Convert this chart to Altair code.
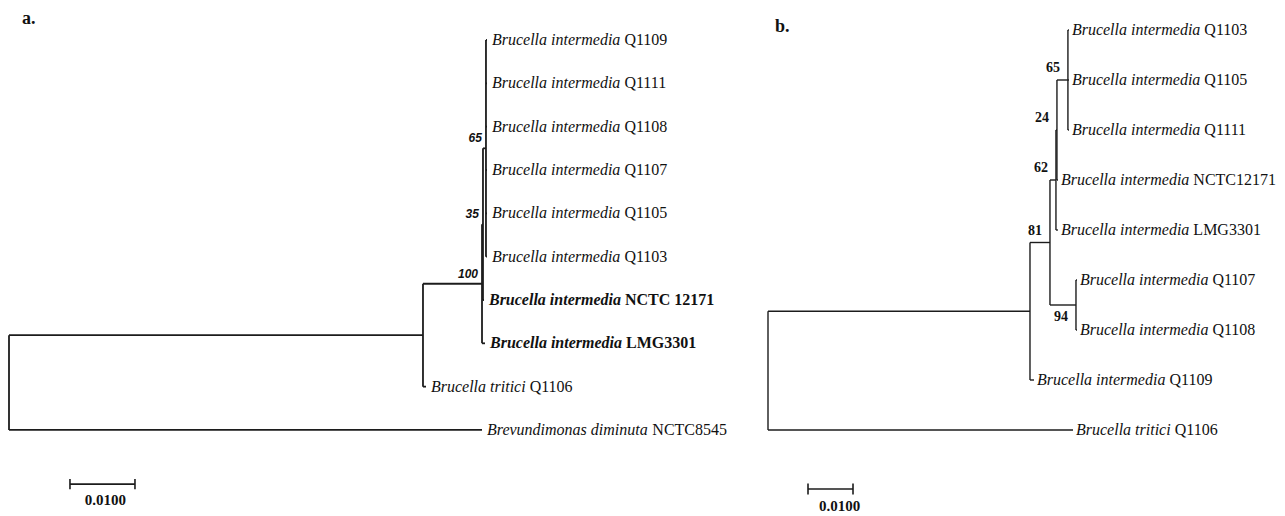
import altair as alt
import pandas as pd

SERIF = "Liberation Serif"
SANS = "Liberation Sans"
INK = "#111111"
LINE = "#1c1c1c"

# ---------------- Panel a data ----------------
a_nodes = ["root", "n1", "n100", "n35", "n65",
           "Q1109", "Q1111", "Q1108", "Q1107", "Q1105", "Q1103",
           "NCTC 12171", "LMG3301", "Q1106", "NCTC8545"]
a_parent = ["", "root", "n1", "n100", "n35",
            "n65", "n65", "n65", "n65", "n65", "n65",
            "n35", "n100", "n1", "root"]
a_branch = [0.0, 0.06369, 0.00908, 0.00015, 0.00046,
            0.00015, 0.00015, 0.00015, 0.00015, 0.00015, 0.00015,
            0.00015, 0.00046, 0.00046, 0.07277]
a_leaves = ["Q1109", "Q1111", "Q1108", "Q1107", "Q1105", "Q1103",
            "NCTC 12171", "LMG3301", "Q1106", "NCTC8545"]
a_species = ["Brucella intermedia", "Brucella intermedia", "Brucella intermedia",
             "Brucella intermedia", "Brucella intermedia", "Brucella intermedia",
             "Brucella intermedia", "Brucella intermedia",
             "Brucella tritici", "Brevundimonas diminuta"]
a_bold = [0, 0, 0, 0, 0, 0, 1, 1, 0, 0]
a_support_nodes = ["n65", "n35", "n100"]
a_support = ["65", "35", "100"]
a_scalebar = 0.0100

# ---------------- Panel b data ----------------
b_nodes = ["root", "nY", "n81", "n62", "n24", "n65",
           "Q1103", "Q1105", "Q1111", "NCTC12171", "LMG3301",
           "n94", "Q1107", "Q1108", "Q1109", "Q1106"]
b_parent = ["", "root", "nY", "n81", "n62", "n24",
            "n65", "n65", "n65", "n24", "n62",
            "n81", "n94", "n94", "nY", "root"]
b_branch = [0.0, 0.05822, 0.00444, 0.00133, 0.00022, 0.00244,
            0.00022, 0.00022, 0.00022, 0.00022, 0.00044,
            0.00578, 0.00022, 0.00022, 0.00089, 0.06778]
b_leaves = ["Q1103", "Q1105", "Q1111", "NCTC12171", "LMG3301",
            "Q1107", "Q1108", "Q1109", "Q1106"]
b_species = ["Brucella intermedia", "Brucella intermedia", "Brucella intermedia",
             "Brucella intermedia", "Brucella intermedia", "Brucella intermedia",
             "Brucella intermedia", "Brucella intermedia", "Brucella tritici"]
b_bold = [0, 0, 0, 0, 0, 0, 0, 0, 0]
b_support_nodes = ["n65", "n24", "n62", "n81", "n94"]
b_support = ["65", "24", "62", "81", "94"]
b_support_below = [0, 0, 0, 0, 1]
b_scalebar = 0.0100

# Times / Liberation Serif advance widths (per 1000 em)
ITALIC = {"B": 611, "r": 389, "u": 500, "c": 444, "e": 444, "l": 278, "a": 500,
          "i": 278, "n": 500, "t": 278, "m": 722, "d": 500, "v": 444, "o": 500,
          "s": 389, " ": 250}
BOLD_ITALIC = {"B": 667, "r": 389, "u": 556, "c": 444, "e": 444, "l": 278, "a": 500,
               "i": 278, "n": 556, "t": 278, "m": 778, "d": 500, "v": 444, "o": 500,
               "s": 389, " ": 250}
FS = 16


def text_width(s, table, size):
    return sum(table.get(ch, 500) for ch in s) * size / 1000.0


def layout(nodes, parent, branch, leaves):
    x = {}
    for n, p, b in zip(nodes, parent, branch):
        x[n] = b + (x[p] if p else 0.0)
    children = {n: [] for n in nodes}
    for n, p in zip(nodes, parent):
        if p:
            children[p].append(n)
    y = {}

    def gy(n):
        if not children[n]:
            y[n] = float(leaves.index(n))
            return y[n]
        ys = [gy(c) for c in children[n]]
        y[n] = (min(ys) + max(ys)) / 2.0
        return y[n]

    gy(nodes[0])
    segs = []
    for n, p in zip(nodes, parent):
        if p:
            segs.append(dict(x=x[p], x2=x[n], y=y[n], y2=y[n]))
        if children[n]:
            cy = [y[c] for c in children[n]]
            segs.append(dict(x=x[n], x2=x[n], y=min(cy), y2=max(cy)))
    return x, y, pd.DataFrame(segs)


def panel(nodes, parent, branch, leaves, species, bold, sup_nodes, sup, sup_below,
          scalebar, ppu, root_px, width, leaf_px, first_px, height,
          gap, sb_start, sb_y, sb_tick, sb_label_y, sb_label_dx,
          sup_font, sup_style, sup_size, sup_dx, sup_dy, line_w, title, title_dx, title_dy):
    x, y, segs = layout(nodes, parent, branch, leaves)
    x0 = -root_px / ppu
    xdom = [x0, x0 + width / ppu]
    y0 = -first_px / leaf_px
    ydom = [y0, y0 + height / leaf_px]
    xsc = alt.Scale(domain=xdom, nice=False, zero=False)
    ysc = alt.Scale(domain=ydom, nice=False, zero=False, reverse=True)

    rows = []
    for lf, sp, bd in zip(leaves, species, bold):
        tbl = BOLD_ITALIC if bd else ITALIC
        w = text_width(sp + " ", tbl, FS)
        rows.append(dict(name=lf, species=sp, bold=bd, x=x[lf], y=y[lf],
                         xs=x[lf] + w / ppu))
    leaf_df = pd.DataFrame(rows)

    sup_df = pd.DataFrame(dict(x=[x[n] for n in sup_nodes], y=[y[n] for n in sup_nodes],
                               label=sup, below=sup_below))

    sb_df = pd.DataFrame(dict(x=[sb_start], x2=[sb_start + scalebar], y=[sb_y],
                              label=["%.4f" % scalebar], xm=[sb_start + scalebar / 2],
                              yl=[sb_label_y]))
    sb_ticks = pd.DataFrame(dict(x=[sb_start, sb_start + scalebar],
                                 y=[sb_y - sb_tick, sb_y - sb_tick],
                                 y2=[sb_y + sb_tick, sb_y + sb_tick]))
    title_df = pd.DataFrame(dict(x=[xdom[0]], y=[ydom[0]], label=[title]))

    X = lambda f: alt.X(f, scale=xsc, axis=None)
    Y = lambda f: alt.Y(f, scale=ysc, axis=None)

    tree = alt.Chart(segs).mark_rule(color=LINE, strokeWidth=line_w).encode(
        x=X("x:Q"), x2="x2:Q", y=Y("y:Q"), y2="y2:Q")

    layers = [tree]
    for bd in (0, 1):
        wt = "bold" if bd else "normal"
        base = alt.Chart(leaf_df).transform_filter("datum.bold == %d" % bd)
        layers.append(base.mark_text(align="left", baseline="middle", font=SERIF, fontSize=FS,
                                     fontStyle="italic", fontWeight=wt, dx=gap, color=INK)
                      .encode(x=X("x:Q"), y=Y("y:Q"), text="species:N"))
        layers.append(base.mark_text(align="left", baseline="middle", font=SERIF, fontSize=FS,
                                     fontStyle="normal", fontWeight=wt, dx=gap, color=INK)
                      .encode(x=X("xs:Q"), y=Y("y:Q"), text="name:N"))

    for bl in (0, 1):
        layers.append(alt.Chart(sup_df).transform_filter("datum.below == %d" % bl)
                      .mark_text(align="right", baseline="middle", font=sup_font,
                                 fontStyle=sup_style, fontWeight="bold", fontSize=sup_size,
                                 dx=sup_dx, dy=(-sup_dy if bl == 0 else sup_dy), color=INK)
                      .encode(x=X("x:Q"), y=Y("y:Q"), text="label:N"))

    layers.append(alt.Chart(sb_df).mark_rule(color=LINE, strokeWidth=1.6).encode(
        x=X("x:Q"), x2="x2:Q", y=Y("y:Q")))
    layers.append(alt.Chart(sb_ticks).mark_rule(color=LINE, strokeWidth=1.6).encode(
        x=X("x:Q"), y=Y("y:Q"), y2="y2:Q"))
    layers.append(alt.Chart(sb_df).mark_text(align="center", baseline="middle", font=SERIF,
                                             fontWeight="bold", fontSize=15, dx=sb_label_dx,
                                             color=INK)
                  .encode(x=X("xm:Q"), y=Y("yl:Q"), text="label:N"))
    layers.append(alt.Chart(title_df).mark_text(align="left", baseline="top", font=SERIF,
                                                fontWeight="bold", fontSize=18, color=INK,
                                                dx=title_dx, dy=title_dy)
                  .encode(x=X("x:Q"), y=Y("y:Q"), text="label:N"))

    return alt.layer(*layers).properties(width=width, height=height)


pa = panel(a_nodes, a_parent, a_branch, a_leaves, a_species, a_bold,
           a_support_nodes, a_support, [0, 0, 0], a_scalebar,
           ppu=6500.0, root_px=1.0, width=752, leaf_px=43.33, first_px=32.0, height=500,
           gap=5, sb_start=0.00938, sb_y=10.25, sb_tick=0.12, sb_label_y=10.62, sb_label_dx=3,
           sup_font=SANS, sup_style="italic", sup_size=12, sup_dx=-4, sup_dy=10,
           line_w=1.8, title="a.", title_dx=14, title_dy=2)

pb = panel(b_nodes, b_parent, b_branch, b_leaves, b_species, b_bold,
           b_support_nodes, b_support, b_support_below, b_scalebar,
           ppu=4500.0, root_px=8.0, width=517, leaf_px=50.0, first_px=22.0, height=500,
           gap=3, sb_start=0.00889, sb_y=9.18, sb_tick=0.11, sb_label_y=9.52, sb_label_dx=9,
           sup_font=SERIF, sup_style="normal", sup_size=14, sup_dx=-8, sup_dy=12,
           line_w=1.4, title="b.", title_dx=15, title_dy=10)

chart = alt.hconcat(pa, pb, spacing=0).properties(
    padding=0, background="white").configure_view(stroke=None)

chart.save("out.html", embed_options={"renderer": "svg", "actions": False})
